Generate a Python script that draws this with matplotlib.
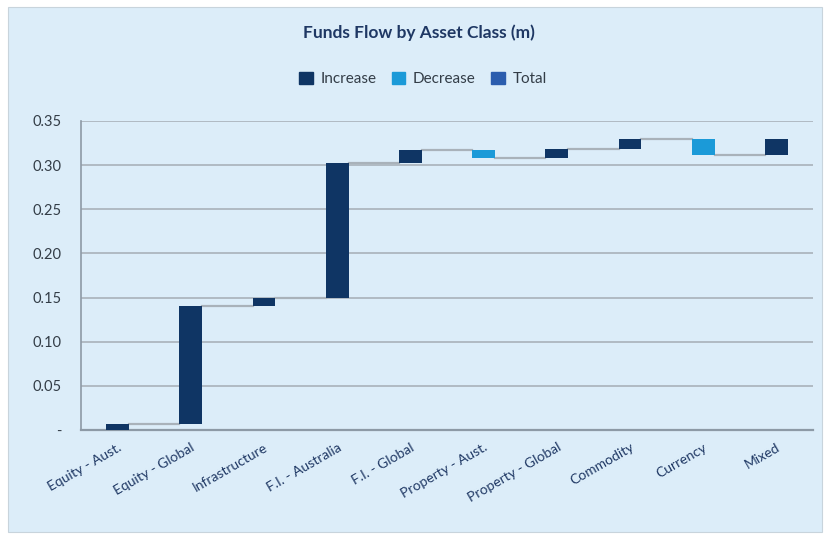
import matplotlib.pyplot as plt
import matplotlib.patches as mpatches
import numpy as np

plt.rcParams['font.family'] = ['Lato', 'DejaVu Sans']

# data
categories = ['Equity - Aust.', 'Equity - Global', 'Infrastructure', 'F.I. - Australia',
              'F.I. - Global', 'Property - Aust.', 'Property - Global', 'Commodity',
              'Currency', 'Mixed']
changes = [0.007, 0.134, 0.008, 0.153, 0.015, -0.009, 0.010, 0.012, -0.018, 0.018]
ytick_vals = [0, 0.05, 0.10, 0.15, 0.20, 0.25, 0.30, 0.35]
ytick_labels = ['-', '0.05', '0.10', '0.15', '0.20', '0.25', '0.30', '0.35']

c_inc = '#0f3564'
c_dec = '#1b9ad8'
c_tot = '#2b5dae'
bg = '#dcedf9'
txt = '#1f3864'

fig = plt.figure(figsize=(8.29, 5.35), dpi=100)
fig.patch.set_facecolor('white')
panel = mpatches.Rectangle((8 / 829, 3 / 535), 814 / 829, 525 / 535, transform=fig.transFigure,
                           facecolor=bg, edgecolor='#c8d4dc', linewidth=0.8, zorder=-1)
fig.patches.append(panel)

ax = fig.add_axes([81 / 829, 1 - 430 / 535, 732 / 829, 309 / 535])
ax.set_facecolor(bg)

ends = np.cumsum(changes)
starts = ends - np.array(changes)
x = np.arange(len(categories)) + 0.5
w = 0.31
colors = [c_inc if c >= 0 else c_dec for c in changes]
ax.bar(x, np.array(changes), bottom=starts, width=w, color=colors, zorder=3)

# connectors
for i in range(len(categories) - 1):
    ax.plot([x[i] + w / 2, x[i + 1] - w / 2], [ends[i], ends[i]], color='#a9b2ba', lw=1.6, zorder=2)

ax.set_xlim(0, len(categories))
ax.set_ylim(0, 0.35)
ax.set_yticks(ytick_vals)
ax.set_yticklabels(ytick_labels, fontsize=10.5, color='#333d47')
ax.set_xticks(x)
ax.set_xticklabels(categories, rotation=30, ha='right', rotation_mode='anchor', fontsize=10, color=txt)
ax.tick_params(length=0, pad=8)
ax.tick_params(axis='y', pad=14)
ax.grid(axis='y', color='#a9b2ba', lw=1.2, zorder=1)
for s in ['top', 'right']:
    ax.spines[s].set_visible(False)
ax.spines['left'].set_color('#8d9aa6')
ax.spines['bottom'].set_color('#8d9aa6')
ax.spines['left'].set_linewidth(1.2)
ax.spines['bottom'].set_linewidth(1.6)

fig.text(0.505, 1 - 33 / 535, 'Funds Flow by Asset Class (m)', ha='center', va='center',
         fontsize=12.5, fontweight='bold', color=txt)

handles = [mpatches.Patch(color=c_inc, label='Increase'),
           mpatches.Patch(color=c_dec, label='Decrease'),
           mpatches.Patch(color=c_tot, label='Total')]
leg = fig.legend(handles=handles, loc='center', bbox_to_anchor=(0.51, 1 - 79 / 535), ncol=3,
                 frameon=False, fontsize=11, handlelength=0.9, handleheight=0.9,
                 handletextpad=0.5, columnspacing=1.0)
for t in leg.get_texts():
    t.set_color('#333d47')

fig.savefig('out.png', dpi=100, facecolor=fig.get_facecolor())
